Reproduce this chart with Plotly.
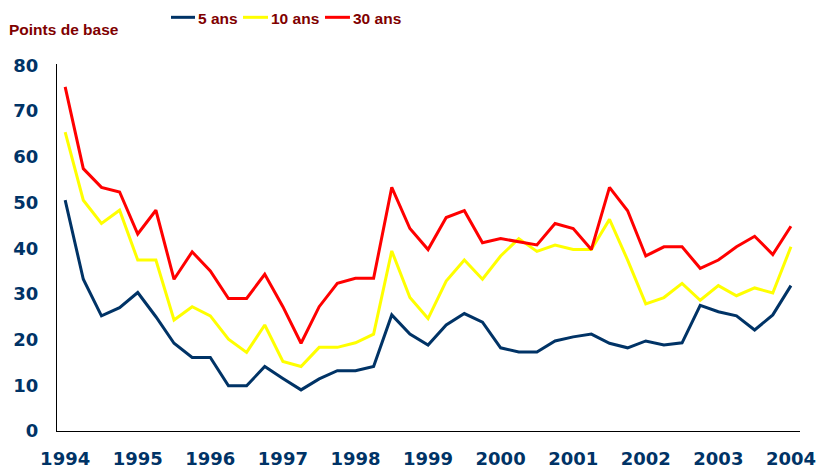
import plotly.graph_objects as go

years = ["1994", "1995", "1996", "1997", "1998", "1999", "2000", "2001", "2002", "2003", "2004"]
quarters = list(range(41))  # quarterly points, 1994 Q1 .. 2004 Q1

ans5 = [50.5, 33.2, 25.2, 27.0, 30.3, 25.0, 19.2, 16.1, 16.1, 9.9,
        9.9, 14.1, 11.5, 9.0, 11.4, 13.2, 13.2, 14.1, 25.4, 21.2,
        18.8, 23.2, 25.7, 23.8, 18.2, 17.3, 17.3, 19.7, 20.6, 21.2,
        19.2, 18.2, 19.7, 18.8, 19.3, 27.5, 26.1, 25.2, 22.1, 25.4, 31.8]
ans10 = [65.4, 50.5, 45.4, 48.3, 37.4, 37.4, 24.3, 27.2, 25.2, 20.1,
         17.2, 23.2, 15.2, 14.1, 18.3, 18.3, 19.3, 21.2, 39.4, 29.2,
         24.6, 32.8, 37.4, 33.2, 38.3, 42.1, 39.3, 40.7, 39.7, 39.7,
         46.3, 37.4, 27.8, 29.2, 32.3, 28.6, 31.8, 29.6, 31.3, 30.2, 40.3]
ans30 = [75.3, 57.4, 53.3, 52.3, 43.1, 48.3, 33.2, 39.2, 35.0, 29.0,
         29.0, 34.3, 27.2, 19.2, 27.2, 32.3, 33.4, 33.4, 53.3, 44.3,
         39.7, 46.7, 48.2, 41.2, 42.1, 41.4, 40.7, 45.4, 44.3, 39.7,
         53.3, 48.2, 38.3, 40.3, 40.3, 35.6, 37.4, 40.3, 42.6, 38.6, 44.8]

series_names = ["5 ans", "10 ans", "30 ans"]
series_values = [ans5, ans10, ans30]
series_colors = ["#003366", "#FFFF00", "#FF0000"]

TITLEF = "Liberation Sans, Arial, sans-serif"
TICKF = "DejaVu Sans, Verdana, sans-serif"
LEGEND_RED = "#800000"

fig = go.Figure()
for name, vals, col in zip(series_names, series_values, series_colors):
    fig.add_trace(go.Scatter(x=quarters, y=vals, mode="lines", name=name,
                             line=dict(color=col, width=3), showlegend=False))

# compact legend row above the plot (key line + label per series)
legend_line_x = [(0.1534, 0.1857), (0.2503, 0.2840), (0.3607, 0.3943)]
legend_text_x = [0.1871, 0.2853, 0.3957]
shapes = []
annotations = [dict(text="Points de base", xref="paper", yref="paper",
                    x=-0.0673, y=1.095, xanchor="left", yanchor="middle", showarrow=False,
                    font=dict(family=TITLEF, size=15.5, color=LEGEND_RED, weight="bold"))]
for name, col, (x0, x1), tx in zip(series_names, series_colors, legend_line_x, legend_text_x):
    shapes.append(dict(type="line", xref="paper", yref="paper", x0=x0, x1=x1,
                       y0=1.1272, y1=1.1272, line=dict(color=col, width=3)))
    annotations.append(dict(text=name, xref="paper", yref="paper", x=tx, y=1.1245,
                            xanchor="left", yanchor="middle", showarrow=False,
                            font=dict(family=TITLEF, size=15.5, color=LEGEND_RED, weight="bold")))

fig.update_layout(
    width=818, height=469,
    margin=dict(l=57, r=18, t=64, b=38, autoexpand=False),
    paper_bgcolor="white", plot_bgcolor="white",
    showlegend=False,
    shapes=shapes,
    annotations=annotations,
)
fig.update_xaxes(range=[-0.45, 40.5], tickmode="array",
                 tickvals=[i * 4 for i in range(len(years))], ticktext=years,
                 showgrid=False, zeroline=False, showline=True, linecolor="black", linewidth=1,
                 ticks="", ticklabelstandoff=11,
                 tickfont=dict(family=TICKF, size=18, color="#003366", weight="bold"))
fig.update_yaxes(range=[0, 80.3], tickvals=[0, 10, 20, 30, 40, 50, 60, 70, 80],
                 showgrid=False, zeroline=False, showline=True, linecolor="black", linewidth=1,
                 ticks="", ticklabelstandoff=14,
                 tickfont=dict(family=TICKF, size=18, color="#003366", weight="bold"))

# remove the default 8px page margin so the 818x469 figure fills the window exactly
fig.write_html("out.html", config={"displayModeBar": False},
               post_script="document.body.style.margin='0';document.body.style.overflow='hidden';")
